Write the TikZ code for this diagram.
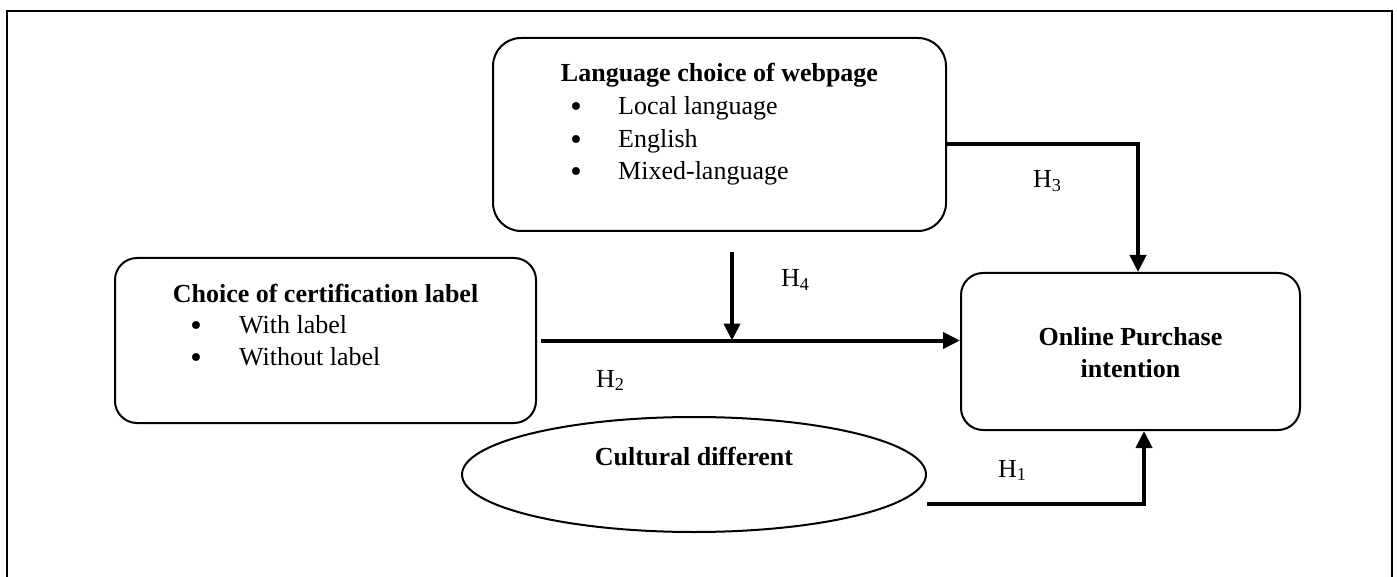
\documentclass[tikz,border=0pt]{standalone}
\usepackage{fontspec}
\setmainfont{Liberation Serif}
\newfontfamily\bulletfont{DejaVu Sans}
\usetikzlibrary{arrows.meta, shapes.geometric}

\begin{document}
\begin{tikzpicture}[
    x=1pt, y=-1pt,
    font=\fontsize{26}{31}\selectfont,
    factor/.style = {
        draw,
        rectangle,
        rounded corners=22pt,
        line width=2pt,
        inner sep=0pt,
    },
    moderator/.style = {
        draw,
        ellipse,
        line width=2pt,
        inner sep=0pt,
    },
    title/.style = {
        font=\fontsize{26}{31}\selectfont\bfseries,
        anchor=base,
        inner sep=0pt,
    },
    bullet/.style = {
        font=\fontsize{27}{31}\bulletfont,
        anchor=base,
        inner sep=0pt,
    },
    entry/.style = {
        anchor=base west,
        inner sep=0pt,
    },
    hyp/.style = {
        line width=4pt,
        -{Triangle[length=17pt, width=16pt]},
    },
    hypLabel/.style = {
        anchor=base west,
        inner sep=0pt,
    },
]
\useasboundingbox (0,0) rectangle (1397,577);

% open frame round the model
\draw[line width=2.5pt] (7,577) -- (7,11) -- (1392,11) -- (1392,577);

% language of the webpage
\node(lang)[factor, rounded corners=28pt,
    minimum width=453pt, minimum height=193pt] at (719.5,134.5) {};
\node(langTitle)[title] at (719.5,82) {Language choice of webpage};
\foreach \txt [count=\i] in {Local language, English, Mixed-language} {
    \node(langBullet\i)[bullet] at (576,{117+(\i-1)*32.5}) {\textbullet};
    \node(langItem\i)[entry] at (618,{115+(\i-1)*32.5}) {\txt};
}

% certification label
\node(choice)[factor, minimum width=421pt, minimum height=165pt]
    at (325.5,340.5) {};
\node(choiceTitle)[title] at (325.5,302) {Choice of certification label};
\foreach \txt [count=\i] in {With label, Without label} {
    \node(choiceBullet\i)[bullet] at (196,{335+(\i-1)*32}) {\textbullet};
    \node(choiceItem\i)[entry] at (239,{333+(\i-1)*32}) {\txt};
}

% outcome
\node(purchase)[factor, minimum width=339pt, minimum height=157pt]
    at (1130.5,351.5) {};
\node(purchaseTitle)[title] at (1130.5,345) {Online Purchase};
\node(purchaseTitle2)[title] at (1130.5,377) {intention};

% culture
\node(cult)[moderator, minimum width=464pt, minimum height=115pt]
    at (694,474.5) {};
\node(cultTitle)[title] at (694,465) {Cultural different};

% hypotheses
\draw[hyp] ([yshift=-9.5pt]lang.east) -| ([xshift=7.5pt]purchase.north);
\node(h3)[hypLabel] at (1033,188) {H\textsubscript{3}};

\draw[hyp] ([xshift=4pt]choice.east) -- (choice.east -| purchase.west);
\node(h2)[hypLabel] at (596,387) {H\textsubscript{2}};

\coordinate (h4top) at (732,252);
\draw[hyp] (h4top) -- (h4top |- choice.east);
\node(h4)[hypLabel] at (781,287) {H\textsubscript{4}};

\draw[hyp] ([yshift=-29.5pt]cult.east) -| ([xshift=13.5pt]purchase.south);
\node(h1)[hypLabel] at (998,477) {H\textsubscript{1}};

\end{tikzpicture}
\end{document}
